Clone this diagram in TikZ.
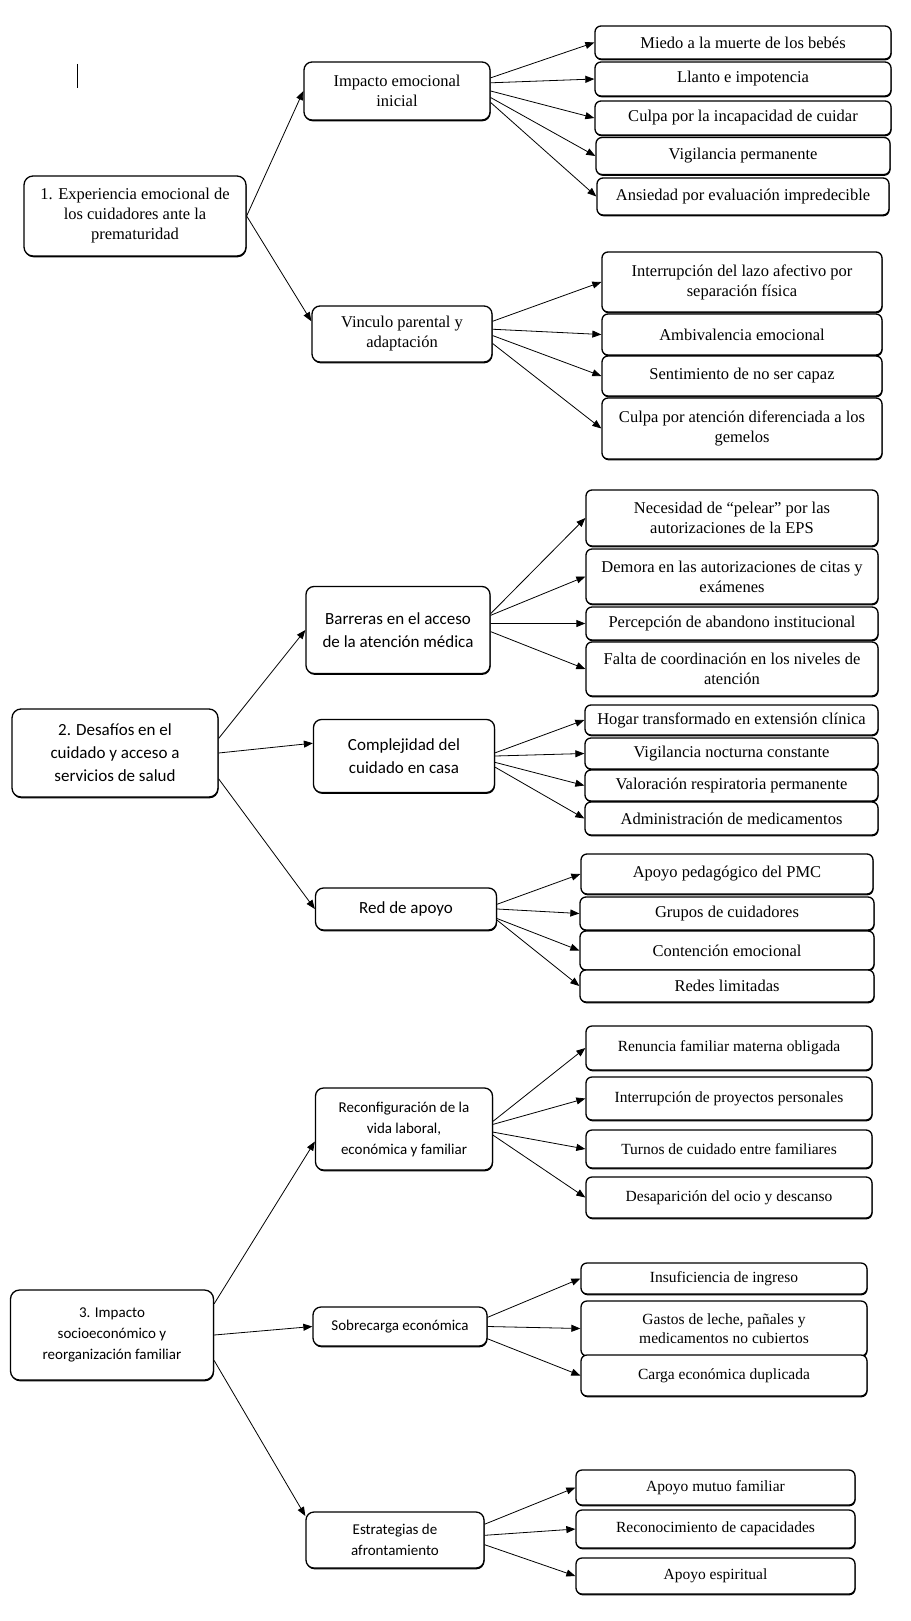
\documentclass[tikz,border=0pt]{standalone}
\usepackage{fontspec}
\setmainfont{Liberation Serif}
\newfontfamily\calib{Carlito}
\usetikzlibrary{arrows.meta,positioning,shadows}
\tikzset{
  boxbase/.style={draw, fill=white, line width=1.3pt, align=center, inner sep=2pt,
    drop shadow={shadow xshift=0.5pt, shadow yshift=-1.3pt, fill=black, opacity=1}},
  rootbox/.style={boxbase, rounded corners=9pt},
  midbox/.style={boxbase, rounded corners=8pt},
  leafbox/.style={boxbase, rounded corners=6pt},
  serif/.style={font=\fontsize{16.5}{20}\selectfont},
  serifsm/.style={font=\fontsize{15.5}{19}\selectfont},
  sans/.style={font=\calib\fontsize{17}{23}\selectfont},
  sanssm/.style={font=\calib\fontsize{15}{21}\selectfont},
  arr/.style={-{Triangle[length=9pt,width=7pt]}, line width=0.8pt}
}
\begin{document}
\begin{tikzpicture}[x=1pt, y=-1pt]
  \useasboundingbox (0,0) rectangle (910,1621);
  \draw[line width=1pt] (77,64)--(77,88);

  \node[rootbox, serif, minimum width=222pt, minimum height=80pt] (exp) at (135,216) {1. Experiencia emocional de\\los cuidadores ante la\\prematuridad};
  \node[midbox, serif, minimum width=186pt, minimum height=58pt] (imp) at (397,91) {Impacto emocional\\inicial};
  \node[midbox, serif, minimum width=180pt, minimum height=56pt] (vin) at (402,334) {Vinculo parental y\\adaptación};
  \node[leafbox, serif, minimum width=296pt, minimum height=33pt] (miedo) at (743,42.5) {Miedo a la muerte de los bebés};
  \node[leafbox, serif, minimum width=296pt, minimum height=34pt] (llanto) at (743,79) {Llanto e impotencia};
  \node[leafbox, serif, minimum width=296pt, minimum height=34pt] (culpa) at (743,118) {Culpa por la incapacidad de cuidar};
  \node[leafbox, serif, minimum width=294pt, minimum height=37pt] (vigil) at (743,156) {Vigilancia permanente};
  \node[leafbox, serif, minimum width=292pt, minimum height=37pt] (ansie) at (743,196.5) {Ansiedad por evaluación impredecible};
  \node[leafbox, serif, minimum width=280pt, minimum height=60pt] (lazo) at (742,282) {Interrupción del lazo afectivo por\\separación física};
  \node[leafbox, serif, minimum width=280pt, minimum height=41pt] (ambiv) at (742,334.5) {Ambivalencia emocional};
  \node[leafbox, serif, minimum width=280pt, minimum height=40pt] (capaz) at (742,376) {Sentimiento de no ser capaz};
  \node[leafbox, serif, minimum width=280pt, minimum height=61pt] (geme) at (742,428.5) {Culpa por atención diferenciada a los\\gemelos};

  \node[rootbox, sans, minimum width=206pt, minimum height=88pt] (des) at (115,753) {2. Desafíos en el\\cuidado y acceso a\\servicios de salud};
  \node[midbox, sans, minimum width=184pt, minimum height=87pt] (barr) at (398,630) {Barreras en el acceso\\de la atención médica};
  \node[midbox, sans, minimum width=181pt, minimum height=73pt] (comp) at (404,756) {Complejidad del\\cuidado en casa};
  \node[midbox, sans, minimum width=181pt, minimum height=42pt] (red) at (406,909) {Red de apoyo};
  \node[leafbox, serif, minimum width=292pt, minimum height=56pt] (pelear) at (732,518) {Necesidad de “pelear” por las\\autorizaciones de la EPS};
  \node[leafbox, serif, minimum width=292pt, minimum height=55pt] (demora) at (732,576.5) {Demora en las autorizaciones de citas y\\exámenes};
  \node[leafbox, serif, minimum width=292pt, minimum height=33pt] (aband) at (732,623.5) {Percepción de abandono institucional};
  \node[leafbox, serif, minimum width=292pt, minimum height=54pt] (coord) at (732,669) {Falta de coordinación en los niveles de\\atención};
  \node[leafbox, serif, minimum width=293pt, minimum height=30pt] (hogar) at (731.5,720) {Hogar transformado en extensión clínica};
  \node[leafbox, serif, minimum width=293pt, minimum height=31pt] (noct) at (731.5,753.5) {Vigilancia nocturna constante};
  \node[leafbox, serif, minimum width=293pt, minimum height=31pt] (resp) at (731.5,785.5) {Valoración respiratoria permanente};
  \node[leafbox, serif, minimum width=293pt, minimum height=33pt] (medic) at (731.5,818.5) {Administración de medicamentos};
  \node[leafbox, serif, minimum width=292pt, minimum height=40pt] (pmc) at (727,874) {Apoyo pedagógico del PMC};
  \node[leafbox, serif, minimum width=294pt, minimum height=33pt] (grupos) at (727,913.5) {Grupos de cuidadores};
  \node[leafbox, serif, minimum width=294pt, minimum height=39pt] (conten) at (727,950.5) {Contención emocional};
  \node[leafbox, serif, minimum width=294pt, minimum height=32pt] (redes) at (727,986) {Redes limitadas};

  \node[rootbox, sanssm, minimum width=203pt, minimum height=90pt] (soc) at (112,1335) {3. Impacto\\socioeconómico y\\reorganización familiar};
  \node[midbox, sanssm, minimum width=177pt, minimum height=82pt] (reconf) at (404,1129) {Reconfiguración de la\\vida laboral,\\económica y familiar};
  \node[midbox, sanssm, minimum width=174pt, minimum height=39pt] (sobre) at (400,1326.5) {Sobrecarga económica};
  \node[midbox, sanssm, minimum width=178pt, minimum height=56pt] (estr) at (395,1540) {Estrategias de\\afrontamiento};
  \node[leafbox, serifsm, minimum width=286pt, minimum height=44pt] (renun) at (729,1048) {Renuncia familiar materna obligada};
  \node[leafbox, serifsm, minimum width=286pt, minimum height=43pt] (proy) at (729,1098.5) {Interrupción de proyectos personales};
  \node[leafbox, serifsm, minimum width=286pt, minimum height=38pt] (turnos) at (729,1149) {Turnos de cuidado entre familiares};
  \node[leafbox, serifsm, minimum width=286pt, minimum height=41pt] (ocio) at (729,1197.5) {Desaparición del ocio y descanso};
  \node[leafbox, serifsm, minimum width=286pt, minimum height=31pt] (ingre) at (724,1278.5) {Insuficiencia de ingreso};
  \node[leafbox, serifsm, minimum width=286pt, minimum height=55pt] (gastos) at (724,1328.5) {Gastos de leche, pañales y\\medicamentos no cubiertos};
  \node[leafbox, serifsm, minimum width=286pt, minimum height=41pt] (carga) at (724,1375.5) {Carga económica duplicada};
  \node[leafbox, serifsm, minimum width=279pt, minimum height=35pt] (mutuo) at (715.5,1487.5) {Apoyo mutuo familiar};
  \node[leafbox, serifsm, minimum width=279pt, minimum height=38pt] (recon) at (715.5,1529) {Reconocimiento de capacidades};
  \node[leafbox, serifsm, minimum width=279pt, minimum height=36pt] (espir) at (715.5,1576) {Apoyo espiritual};

  \draw[arr] (exp.east) -- (imp.west);
  \draw[arr] (exp.east) -- (vin.172);
  \draw[arr] (des.8) -- (barr.west);
  \draw[arr] (des.east) -- (comp.172);
  \draw[arr] (des.-14) -- (red.west);
  \draw[arr] (soc.17) -- (reconf.188);
  \draw[arr] (soc.east) -- (sobre.west);
  \draw[arr] (soc.-14) -- (estr.165);

  \foreach \s/\t/\a in {imp/miedo/8, imp/llanto/5, imp/culpa/0, imp/vigil/-4, imp/ansie/-7,
                        vin/lazo/8, vin/ambiv/3, vin/capaz/-1, vin/geme/-6,
                        barr/pelear/10, barr/demora/9, barr/aband/4, barr/coord/-1,
                        comp/hogar/2, comp/noct/0, comp/resp/-4, comp/medic/-7,
                        red/pmc/3, red/grupos/0, red/conten/-6, red/redes/-7,
                        reconf/renun/5, reconf/proy/3, reconf/turnos/-2, reconf/ocio/-4,
                        sobre/ingre/6, sobre/gastos/0, sobre/carga/-8,
                        estr/mutuo/10, estr/recon/3, estr/espir/-3}
    \draw[arr] (\s.\a) -- (\t.west);
\end{tikzpicture}
\end{document}
